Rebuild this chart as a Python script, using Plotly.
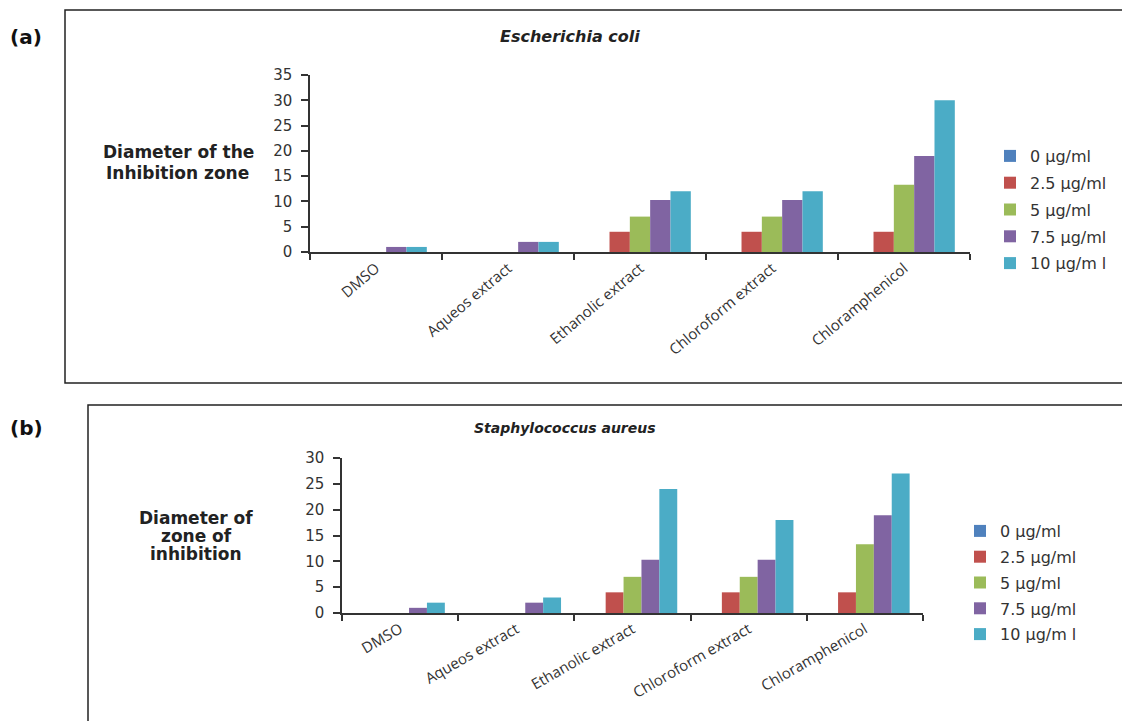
import plotly.graph_objects as go

W, H = 1130, 721
OFF = 8  # page body margin offset of the rendered figure

categories = ["DMSO", "Aqueos extract", "Ethanolic extract", "Chloroform extract", "Chloramphenicol"]
series_legend_text = ["0 µg/ml", "2.5 µg/ml", "5 µg/ml", "7.5 µg/ml", "10 µg/m l"]
colors = ["#4F81BD", "#C0504D", "#9BBB59", "#8064A2", "#4BACC6"]

# Escherichia coli (panel a), one list per concentration, values per category
ecoli_0 = [0, 0, 0, 0, 0]
ecoli_2_5 = [0, 0, 4, 4, 4]
ecoli_5 = [0, 0, 7, 7, 13.3]
ecoli_7_5 = [1, 2, 10.3, 10.3, 19]
ecoli_10 = [1, 2, 12, 12, 30]

# Staphylococcus aureus (panel b)
saureus_0 = [0, 0, 0, 0, 0]
saureus_2_5 = [0, 0, 4, 4, 4]
saureus_5 = [0, 0, 7, 7, 13.3]
saureus_7_5 = [1, 2, 10.3, 10.3, 18.9]
saureus_10 = [2, 3, 24, 18, 27]

ecoli = [ecoli_0, ecoli_2_5, ecoli_5, ecoli_7_5, ecoli_10]
saureus = [saureus_0, saureus_2_5, saureus_5, saureus_7_5, saureus_10]

ytick_a = [0, 5, 10, 15, 20, 25, 30, 35]
ytick_b = [0, 5, 10, 15, 20, 25, 30]


def px(x):
    return (x - OFF) / W


def py(y):
    return 1 - (y - OFF) / H


fig = go.Figure()

for i in range(5):
    fig.add_trace(go.Bar(
        x=categories, y=ecoli[i], name=series_legend_text[i],
        marker=dict(color=colors[i], line=dict(width=0)),
        xaxis="x", yaxis="y", legend="legend", legendgroup="a%d" % i,
    ))
for i in range(5):
    fig.add_trace(go.Bar(
        x=categories, y=saureus[i], name=series_legend_text[i],
        marker=dict(color=colors[i], line=dict(width=0)),
        xaxis="x2", yaxis="y2", legend="legend2", legendgroup="b%d" % i,
    ))

axis_col = "#333333"
tick_font = dict(family="DejaVu Sans", size=15, color="#333333")
cat_font = dict(family="Open Sans", size=15, color="#333333")

xcommon = dict(
    type="category", showline=True, linecolor=axis_col, linewidth=1.5,
    ticks="outside", tickson="boundaries", ticklen=6, tickcolor=axis_col, tickwidth=1.5,
    tickfont=cat_font, showgrid=False, zeroline=False, fixedrange=True,
    automargin=False,
)
ycommon = dict(
    showline=True, linecolor=axis_col, linewidth=1.5, ticks="outside", ticklen=7,
    tickcolor=axis_col, tickwidth=1.5, tickfont=tick_font, showgrid=False, zeroline=False,
    ticklabelstandoff=6, fixedrange=True, automargin=False,
)

leg_font = dict(family="DejaVu Sans", size=16, color="#333333")
lab_font = dict(family="DejaVu Sans", size=17, color="#222222")


def label(text, x, y):
    return dict(text="<b>%s</b>" % text, x=px(x), y=py(y), xref="paper", yref="paper",
                xanchor="center", yanchor="middle", showarrow=False, font=lab_font)


fig.update_layout(
    width=W, height=H,
    margin=dict(l=0, r=0, t=0, b=0, autoexpand=False),
    paper_bgcolor="white", plot_bgcolor="white",
    barmode="group", bargap=0.23, bargroupgap=0,
    xaxis=dict(domain=[px(310), px(970)], anchor="y", tickangle=-40, **xcommon),
    yaxis=dict(domain=[py(252), py(75)], anchor="x", range=[0, 35], tickvals=ytick_a, **ycommon),
    xaxis2=dict(domain=[px(342), px(923)], anchor="y2", tickangle=-30, **xcommon),
    yaxis2=dict(domain=[py(613), py(458)], anchor="x2", range=[0, 30], tickvals=ytick_b, **ycommon),
    legend=dict(x=px(990), y=py(139), xanchor="left", yanchor="top", font=leg_font,
                tracegroupgap=3, bgcolor="rgba(0,0,0,0)", itemclick=False),
    legend2=dict(x=px(960), y=py(514), xanchor="left", yanchor="top", font=leg_font,
                 tracegroupgap=2, bgcolor="rgba(0,0,0,0)", itemclick=False),
    showlegend=True,
    shapes=[
        dict(type="rect", xref="paper", yref="paper", x0=px(65), x1=px(1150), y0=py(383), y1=py(10),
             line=dict(color="#222222", width=1.5)),
        dict(type="rect", xref="paper", yref="paper", x0=px(88), x1=px(1150), y0=py(740), y1=py(405),
             line=dict(color="#222222", width=1.5)),
    ],
    annotations=[
        dict(text="<b>(a)</b>", x=px(8), y=py(37), xref="paper", yref="paper", xanchor="left", yanchor="middle",
             showarrow=False, font=dict(family="DejaVu Sans", size=20, color="#111111")),
        dict(text="<b>(b)</b>", x=px(8), y=py(428), xref="paper", yref="paper", xanchor="left", yanchor="middle",
             showarrow=False, font=dict(family="DejaVu Sans", size=20, color="#111111")),
        dict(text="<b><i>Escherichia coli</i></b>", x=px(570), y=py(37), xref="paper", yref="paper",
             xanchor="center", yanchor="middle", showarrow=False,
             font=dict(family="DejaVu Sans", size=16, color="#222222")),
        dict(text="<b><i>Staphylococcus aureus</i></b>", x=px(565), y=py(428), xref="paper", yref="paper",
             xanchor="center", yanchor="middle", showarrow=False,
             font=dict(family="DejaVu Sans", size=14, color="#222222")),
        label("Diameter of the", 178, 152),
        label("Inhibition zone", 177, 173),
        label("Diameter of", 196, 518),
        label("zone of", 196, 536),
        label("inhibition", 196, 554),
    ],
)

fig.write_html("out.html")
